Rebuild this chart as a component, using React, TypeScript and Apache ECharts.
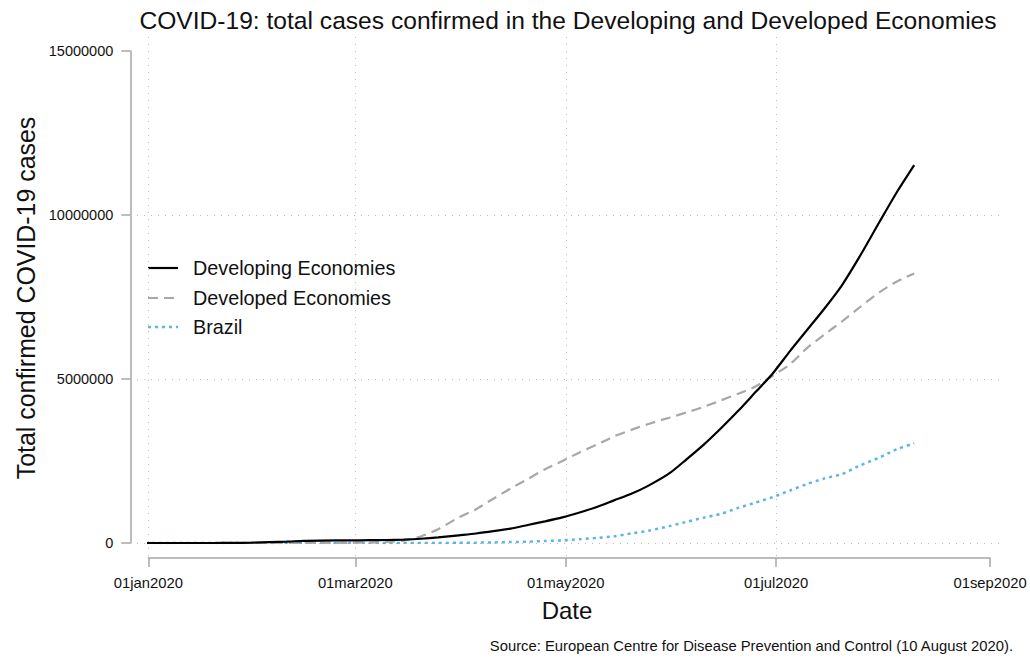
import React, { useEffect, useRef } from "react";
import * as echarts from "echarts";

const dates = [
  "2019-12-31", "2020-01-10", "2020-01-20", "2020-01-25", "2020-01-31", "2020-02-05",
  "2020-02-10", "2020-02-15", "2020-02-20", "2020-02-29", "2020-03-05", "2020-03-10",
  "2020-03-15", "2020-03-20", "2020-03-25", "2020-03-31", "2020-04-05", "2020-04-10",
  "2020-04-15", "2020-04-20", "2020-04-25", "2020-04-30", "2020-05-05", "2020-05-10",
  "2020-05-15", "2020-05-20", "2020-05-25", "2020-05-31", "2020-06-05", "2020-06-10",
  "2020-06-15", "2020-06-20", "2020-06-25", "2020-06-30", "2020-07-05", "2020-07-10",
  "2020-07-15", "2020-07-20", "2020-07-25", "2020-07-31", "2020-08-05", "2020-08-10",
];

// cumulative confirmed cases (millions)
const developing = [
  0, 0.00004, 0.0003, 0.002, 0.01, 0.028,
  0.042, 0.067, 0.075, 0.08, 0.085, 0.092,
  0.105, 0.13, 0.17, 0.235, 0.29, 0.36,
  0.44, 0.55, 0.66, 0.78, 0.93, 1.1,
  1.3, 1.5, 1.75, 2.12, 2.55, 3.0,
  3.5, 4.03, 4.6, 5.17, 5.85, 6.5,
  7.15, 7.85, 8.7, 9.8, 10.7, 11.52,
];
const developed = [
  0, 0, 0.00001, 0.00005, 0.0003, 0.0005,
  0.0008, 0.001, 0.0015, 0.006, 0.014, 0.03,
  0.075, 0.2, 0.42, 0.78, 1.03, 1.35,
  1.66, 1.95, 2.25, 2.5, 2.76, 3.0,
  3.25, 3.45, 3.63, 3.82, 3.98, 4.15,
  4.35, 4.55, 4.77, 5.1, 5.45, 5.95,
  6.36, 6.75, 7.17, 7.65, 7.97, 8.22,
];
const brazil = [
  0, 0, 0, 0, 0, 0,
  0, 0, 0, 0.000002, 0.000004, 0.00003,
  0.0002, 0.0009, 0.0023, 0.0057, 0.011, 0.018,
  0.028, 0.04, 0.059, 0.079, 0.115, 0.156,
  0.203, 0.291, 0.375, 0.514, 0.645, 0.773,
  0.888, 1.07, 1.23, 1.4, 1.6, 1.8,
  1.97, 2.1, 2.35, 2.61, 2.86, 3.04,
];

const seriesNames = ["Developing Economies", "Developed Economies", "Brazil"];
const tickDates = ["2020-01-01", "2020-03-01", "2020-05-01", "2020-07-01", "2020-09-01"];
const tickLabels = ["01jan2020", "01mar2020", "01may2020", "01jul2020", "01sep2020"];
const yTicks = [0, 5000000, 10000000, 15000000];

const FONT = "'Liberation Sans', Arial, Helvetica, sans-serif";

function dayIndex(s: string): number {
  const [y, m, d] = s.split("-").map(Number);
  return (Date.UTC(y, m - 1, d) - Date.UTC(2020, 0, 1)) / 86400000;
}

export default function App() {
  const ref = useRef<HTMLDivElement>(null);

  useEffect(() => {
    document.body.style.margin = "0";
    if (!ref.current) return;
    const chart = echarts.init(ref.current, undefined, { renderer: "svg" });

    // data region (pixels)
    const L = 148.3, R = 990.1, T = 51, B = 543;
    // plot region (pixels) for grid lines
    const L0 = 130, R0 = 1002, T0 = 37, B0 = 556;

    const tickDays = tickDates.map(dayIndex);
    const xMin = tickDays[0];
    const xMax = tickDays[tickDays.length - 1];
    const yMax = yTicks[yTicks.length - 1];
    const pxPerDay = (R - L) / (xMax - xMin);
    const pxPerVal = (B - T) / yMax;
    const xMin0 = xMin - (L - L0) / pxPerDay;
    const xMax0 = xMax + (R0 - R) / pxPerDay;
    const yMax0 = yMax + (T - T0) / pxPerVal;
    const yMin0 = -(B0 - B) / pxPerVal;

    const mk = (vals: number[]) => dates.map((d, i) => [dayIndex(d), vals[i] * 1e6]);

    const axisGray = "#a6a6a6";
    const gridColor = "#bdbdbd";

    const styles = [
      { color: "#000000", width: 2.2, dash: null as any },
      { color: "#a8a8a8", width: 2.2, dash: [10, 6] },
      { color: "#5bb5e8", width: 2.5, dash: [3, 4] },
    ];

    const legendRows = [268, 298, 327];
    const legendGraphics: any[] = [];
    seriesNames.forEach((name, i) => {
      const st = styles[i];
      legendGraphics.push({
        type: "line",
        shape: { x1: 148, y1: legendRows[i], x2: 178, y2: legendRows[i] },
        style: { stroke: st.color, lineWidth: st.width, lineDash: st.dash || undefined },
        silent: true,
      });
      legendGraphics.push({
        type: "text", x: 193, y: legendRows[i],
        style: { text: name, fontSize: 19.8, fontFamily: FONT, fill: "#111", align: "left", verticalAlign: "middle" },
        silent: true,
      });
    });

    const option: any = {
      animation: false,
      backgroundColor: "#ffffff",
      grid: [
        { left: L0, top: T0, width: R0 - L0, height: B0 - T0, containLabel: false },
        { left: L, top: T, width: R - L, height: B - T, containLabel: false },
      ],
      xAxis: [
        { type: "value", gridIndex: 0, min: xMin0, max: xMax0, show: false },
        {
          type: "value", gridIndex: 1, min: xMin, max: xMax, offset: 15, position: "bottom",
          axisLine: { show: true, onZero: false, lineStyle: { color: axisGray, width: 1.5 } },
          axisTick: { show: true, length: 9, customValues: tickDays, lineStyle: { color: axisGray, width: 1.5 } },
          axisLabel: {
            show: true, customValues: tickDays, margin: 17, color: "#111", fontSize: 14.8, fontFamily: FONT,
            formatter: (v: number) => {
              const i = tickDays.indexOf(v);
              return i >= 0 ? tickLabels[i] : "";
            },
          },
          splitLine: { show: false },
        },
      ],
      yAxis: [
        { type: "value", gridIndex: 0, min: yMin0, max: yMax0, show: false },
        {
          type: "value", gridIndex: 1, min: 0, max: yMax, interval: 5000000, offset: 18, position: "left",
          axisLine: { show: true, onZero: false, lineStyle: { color: axisGray, width: 1.5 } },
          axisTick: { show: true, length: 9, lineStyle: { color: axisGray, width: 1.5 } },
          axisLabel: { show: true, margin: 17, color: "#111", fontSize: 14.5, fontFamily: FONT, formatter: (v: number) => String(v) },
          splitLine: { show: false },
        },
      ],
      graphic: [
        {
          type: "text", x: 568, y: 20,
          style: { text: "COVID-19: total cases confirmed in the Developing and Developed Economies", fontSize: 24.6, fontFamily: FONT, fill: "#111", align: "center", verticalAlign: "middle" },
        },
        {
          type: "text", x: 26, y: 298, rotation: Math.PI / 2,
          style: { text: "Total confirmed COVID-19 cases", fontSize: 24.9, fontFamily: FONT, fill: "#111", align: "center", verticalAlign: "middle" },
        },
        {
          type: "text", x: 567, y: 610,
          style: { text: "Date", fontSize: 24, fontFamily: FONT, fill: "#111", align: "center", verticalAlign: "middle" },
        },
        {
          type: "text", x: 1013, y: 646,
          style: { text: "Source: European Centre for Disease Prevention and Control (10 August 2020).", fontSize: 14.8, fontFamily: FONT, fill: "#111", align: "right", verticalAlign: "middle" },
        },
        ...legendGraphics,
      ],
      series: [
        {
          name: "_grid", type: "line", xAxisIndex: 0, yAxisIndex: 0, data: [[0, 0]],
          symbol: "none", lineStyle: { opacity: 0 }, silent: true,
          markLine: {
            silent: true, symbol: "none", animation: false, label: { show: false },
            lineStyle: { color: gridColor, type: [1, 6], width: 1 },
            data: [
              ...tickDays.slice(0, 4).map((d) => ({ xAxis: d })),
              ...yTicks.slice(0, 3).map((v) => ({ yAxis: v })),
            ],
          },
        },
        ...seriesNames.map((name, i) => ({
          name, type: "line", xAxisIndex: 1, yAxisIndex: 1,
          data: mk([developing, developed, brazil][i]),
          symbol: "none", z: 5 - i, smooth: 0.25,
          lineStyle: { color: styles[i].color, width: styles[i].width, type: styles[i].dash || "solid" },
          itemStyle: { color: styles[i].color },
        })),
      ],
    };

    chart.setOption(option);
    return () => chart.dispose();
  }, []);

  return <div ref={ref} style={{ width: 1030, height: 658 }} />;
}
